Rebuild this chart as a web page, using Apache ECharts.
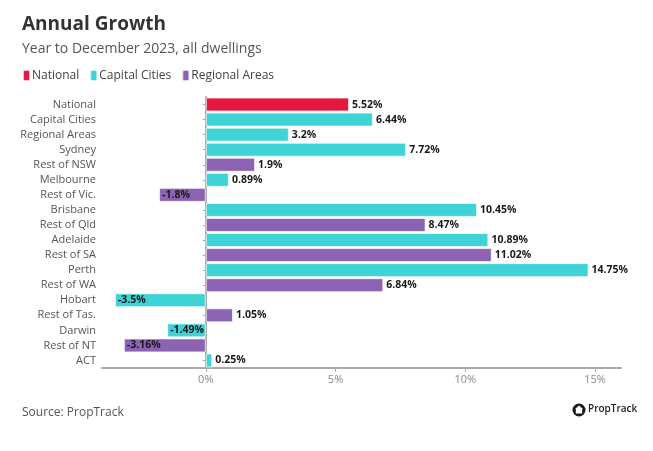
<!DOCTYPE html>
<html><head><meta charset="utf-8">
<script src="https://cdn.jsdelivr.net/npm/echarts@6/dist/echarts.min.js"></script>
<style>html,body{margin:0;padding:0;background:#fff;}#c{width:653px;height:451px;}</style>
</head><body><div id="c"></div>
<script>
const categories = ["National","Capital Cities","Regional Areas","Sydney","Rest of NSW","Melbourne","Rest of Vic.","Brisbane","Rest of Qld","Adelaide","Rest of SA","Perth","Rest of WA","Hobart","Rest of Tas.","Darwin","Rest of NT","ACT"];
const groups = ["National","Capital","Capital","Capital","Regional","Capital","Regional","Capital","Regional","Capital","Regional","Capital","Regional","Capital","Regional","Capital","Regional","Capital"];
const values = [5.52,6.44,3.2,7.72,1.9,0.89,-1.8,10.45,8.47,10.89,11.02,14.75,6.84,-3.5,1.05,-1.49,-3.16,0.25];
const seriesNames = ["National","Capital Cities","Regional Areas"];
const seriesKeys = ["National","Capital","Regional"];
const colors = ["#E3193F","#3DD3D7","#8C63B2"];
const xTicks = [0,5,10,15];

const FONT = "Open Sans";
const chart = echarts.init(document.getElementById('c'));
const series = seriesKeys.map((k,si)=>({
  name: seriesNames[si], type:'bar', stack:'all', barCategoryGap:'7%',
  itemStyle:{color:colors[si], borderColor:'rgba(255,255,255,0.7)', borderWidth:1},
  label:{show:true, fontFamily:FONT, fontWeight:'bold', fontSize:10.5, color:'#1a1a1a',
    formatter:p=>p.value+'%'},
  data: values.map((v,i)=> groups[i]===k ? {value:v, label:{position: v<0?'insideLeft':'right', distance:3}} : '-')
}));
chart.setOption({
  animation:false,
  textStyle:{fontFamily:FONT},
  title:[
    {text:'Annual Growth', left:17, top:10, textStyle:{fontFamily:FONT, fontWeight:'bold', fontSize:19, color:'#333'}},
    {text:'Year to December 2023, all dwellings', left:17, top:37, textStyle:{fontFamily:FONT, fontWeight:'normal', fontSize:14, color:'#555'}},
    {text:'Source: PropTrack', left:17, top:402, textStyle:{fontFamily:FONT, fontWeight:'normal', fontSize:12, color:'#555'}}
  ],
  legend:{left:17, top:64, icon:'roundRect', itemWidth:7, itemHeight:11, itemGap:10,
    textStyle:{fontFamily:FONT, fontSize:12, color:'#444', padding:[0,0,0,-3]}, data:seriesNames},
  grid:{left:102, right:32, top:97, bottom:83},
  xAxis:{type:'value', min:-4, max:16,
    axisLine:{show:true, onZero:false, lineStyle:{color:'#aaa', width:2}},
    axisTick:{show:true, customValues:xTicks, length:4, lineStyle:{color:'#aaa'}},
    axisLabel:{customValues:xTicks, formatter:v=>v+'%', color:'#888', fontSize:11, fontFamily:FONT, margin:6},
    splitLine:{show:false}},
  yAxis:{type:'category', data:categories, inverse:true,
    axisLine:{show:true, lineStyle:{color:'#aaa', width:2}},
    axisTick:{show:true, alignWithLabel:true, length:3, lineStyle:{color:'#aaa'}},
    axisLabel:{color:'#555', fontSize:11, fontFamily:FONT, margin:6}},
  series: series,
  graphic:[
    {type:'circle', shape:{cx:579, cy:410, r:6.5}, style:{fill:'#1a1a1a'}},
    {type:'polygon', shape:{points:[[579,405.5],[583,409],[582.2,409],[582.2,413.5],[575.8,413.5],[575.8,409],[575,409]]}, style:{fill:'#fff'}},
    {type:'text', left:588, top:404, style:{text:'PropTrack', fontFamily:FONT, fontWeight:600, fontSize:10, fill:'#222'}}
  ]
});
</script></body></html>
